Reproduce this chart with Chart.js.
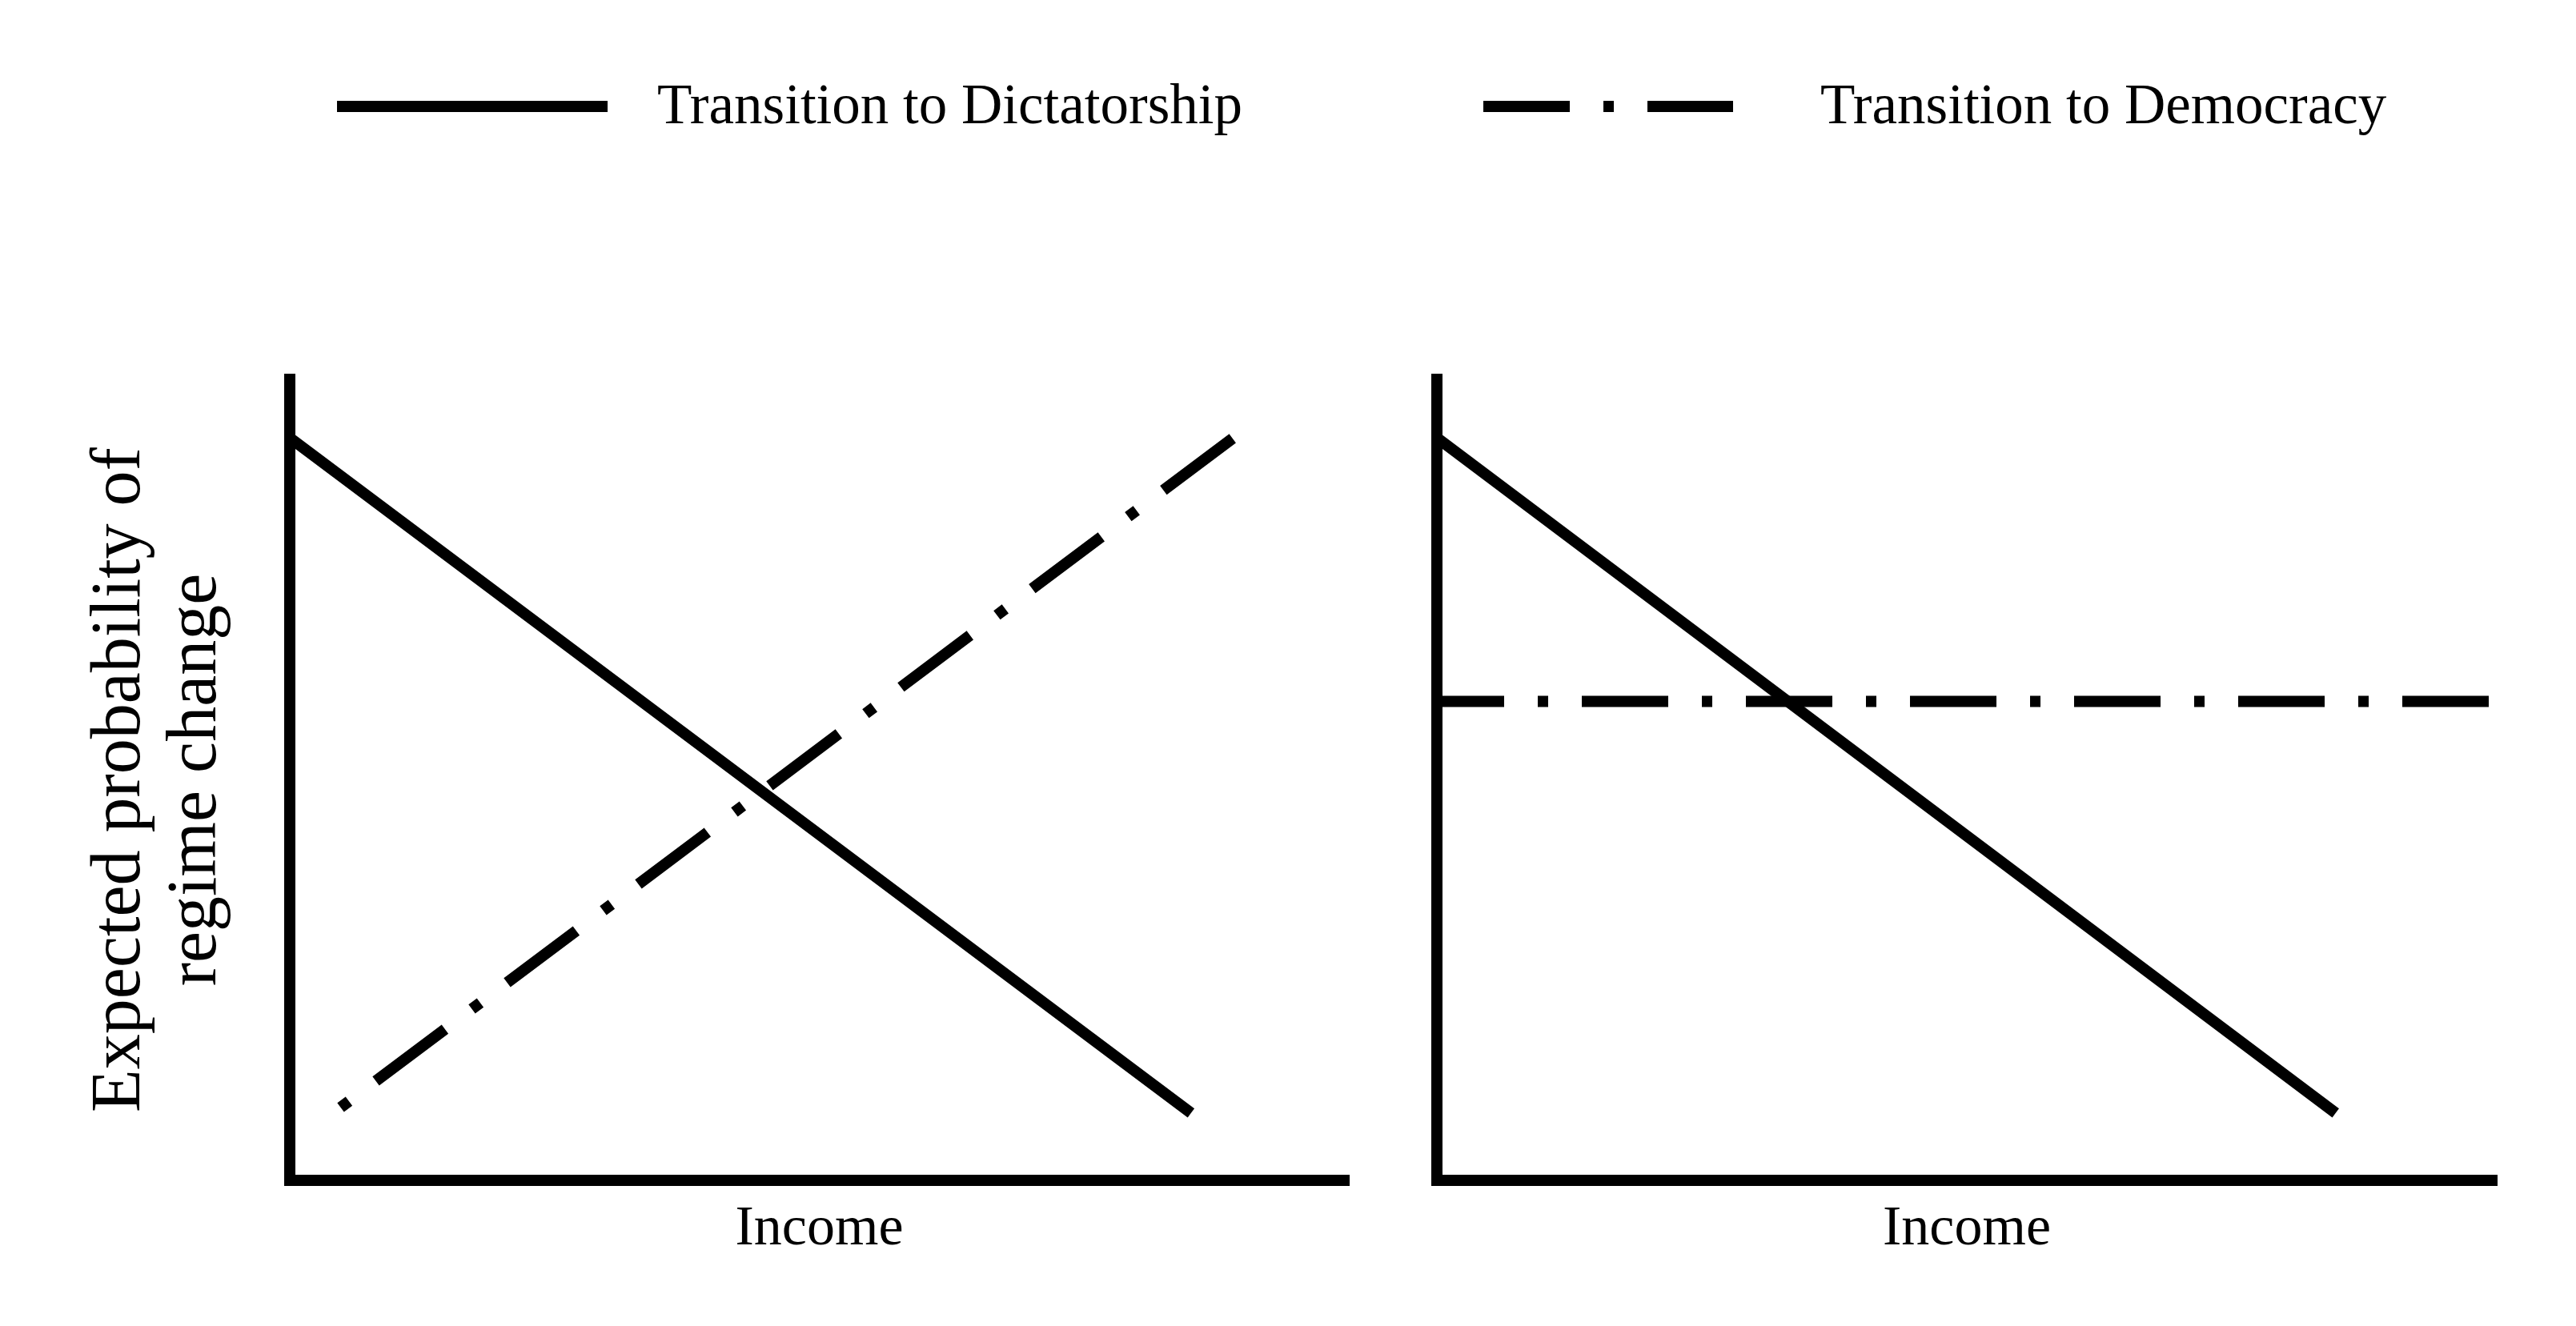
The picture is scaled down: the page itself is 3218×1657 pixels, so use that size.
<!DOCTYPE html>
<html>
<head>
<meta charset="utf-8">
<script src="https://cdn.jsdelivr.net/npm/chart.js@4.4.1/dist/chart.umd.min.js"></script>
<style>
  html, body { margin: 0; padding: 0; background: #ffffff; }
  body { width: 3218px; height: 1657px; position: relative; overflow: hidden; }
  canvas { position: absolute; }
  #legendCanvas { left: 0; top: 0; }
  #leftCanvas { left: 0; top: 0; }
  #rightCanvas { left: 1720px; top: 0; }
</style>
</head>
<body>
<canvas id="leftCanvas" width="1740" height="1657"></canvas>
<canvas id="rightCanvas" width="1498" height="1657"></canvas>
<canvas id="legendCanvas" width="3218" height="300"></canvas>
<script>
// ---- Data (abstract 0-100 scales) ----
const seriesLabels = ['Transition to Dictatorship', 'Transition to Democracy'];
const xTitle = 'Income';
const yTitle = ['Expected probability of', 'regime change'];

// Left panel
const leftDictX = [0, 85.1];
const leftDictY = [92.7, 8.4];
const leftDemoX = [4.5, 89.1];
const leftDemoY = [8.8, 92.7];

// Right panel
const rightDictX = [0, 84.8];
const rightDictY = [92.7, 8.4];
const rightDemoX = [0, 100];
const rightDemoY = [59.8, 59.8];

// ---- Styles ----
const LINE_W = 14;
const DASH_DOT = [108, 42, 13, 42];
const FONT = 'Liberation Serif';
Chart.defaults.font.family = FONT;
Chart.defaults.color = '#000';

function pts(xs, ys) { return xs.map((x, i) => ({ x: x, y: ys[i] })); }

function panelConfig(opts) {
  return {
    type: 'line',
    data: {
      datasets: [
        {
          label: seriesLabels[0],
          data: pts(opts.dictX, opts.dictY),
          borderColor: '#000',
          borderWidth: LINE_W,
          pointRadius: 0,
          tension: 0,
          fill: false
        },
        {
          label: seriesLabels[1],
          data: pts(opts.demoX, opts.demoY),
          borderColor: '#000',
          borderWidth: LINE_W,
          borderDash: DASH_DOT,
          borderDashOffset: opts.dashOffset,
          pointRadius: 0,
          tension: 0,
          fill: false
        }
      ]
    },
    options: {
      responsive: false,
      animation: false,
      devicePixelRatio: 1,
      layout: { padding: { left: 0, right: opts.padRight, top: 474, bottom: 0 } },
      plugins: { legend: { display: false }, tooltip: { enabled: false } },
      scales: {
        x: {
          type: 'linear', min: 0, max: 100,
          grid: { display: false },
          ticks: { display: false },
          border: { display: true, width: LINE_W, color: '#000' },
          title: { display: true, text: xTitle, color: '#000',
                   font: { family: FONT, size: 70, lineHeight: 1.1 },
                   padding: { top: 0, bottom: 82 } },
          afterFit: s => { s.height = 182; }
        },
        y: {
          type: 'linear', min: 0, max: 100,
          grid: { display: false },
          ticks: { display: false },
          border: { display: true, width: LINE_W, color: '#000' },
          title: { display: opts.showYTitle, text: yTitle, color: '#000',
                   font: { family: FONT, size: 88, lineHeight: 1.08 },
                   padding: { top: 103, bottom: 0 } },
          afterFit: s => { s.width = opts.yWidth; }
        }
      }
    }
  };
}

new Chart(document.getElementById('leftCanvas'), panelConfig({
  dictX: leftDictX, dictY: leftDictY, demoX: leftDemoX, demoY: leftDemoY,
  dashOffset: 145, padRight: 55, yWidth: 362, showYTitle: true
}));

new Chart(document.getElementById('rightCanvas'), panelConfig({
  dictX: rightDictX, dictY: rightDictY, demoX: rightDemoX, demoY: rightDemoY,
  dashOffset: 24, padRight: 99, yWidth: 75, showYTitle: false
}));

// ---- Legend chart (legend only, drawn by a plugin from dataset styles) ----
const legendPlugin = {
  id: 'wideLegend',
  afterDraw(chart, args, o) {
    const ctx = chart.ctx;
    chart.data.datasets.forEach((ds, i) => {
      const it = o.items[i];
      ctx.save();
      ctx.strokeStyle = ds.borderColor;
      ctx.lineWidth = ds.borderWidth;
      ctx.lineCap = 'butt';
      ctx.setLineDash(ds.borderDash || []);
      ctx.beginPath();
      ctx.moveTo(it.x0, o.lineY);
      ctx.lineTo(it.x1, o.lineY);
      ctx.stroke();
      ctx.setLineDash([]);
      ctx.fillStyle = '#000';
      ctx.font = o.fontSize + 'px "' + FONT + '"';
      ctx.textBaseline = 'alphabetic';
      ctx.textAlign = 'left';
      ctx.fillText(ds.label, it.textX, o.baseline);
      ctx.restore();
    });
  }
};

new Chart(document.getElementById('legendCanvas'), {
  type: 'line',
  data: {
    datasets: [
      { label: seriesLabels[0], data: [], borderColor: '#000', borderWidth: LINE_W },
      { label: seriesLabels[1], data: [], borderColor: '#000', borderWidth: LINE_W, borderDash: DASH_DOT }
    ]
  },
  options: {
    responsive: false,
    animation: false,
    devicePixelRatio: 1,
    plugins: {
      legend: { display: false },
      tooltip: { enabled: false },
      wideLegend: {
        lineY: 133, baseline: 154, fontSize: 71,
        items: [
          { x0: 421, x1: 759, textX: 821 },
          { x0: 1853, x1: 2165, textX: 2274 }
        ]
      }
    },
    scales: { x: { display: false }, y: { display: false } }
  },
  plugins: [legendPlugin]
});
</script>
</body>
</html>
